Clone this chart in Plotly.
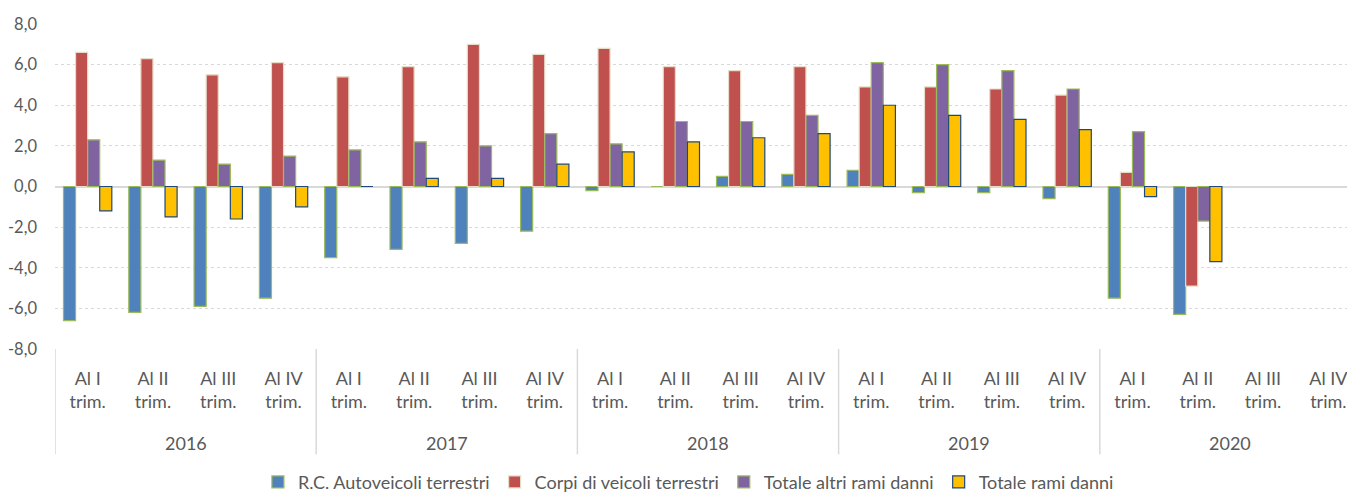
import plotly.graph_objects as go

years = ["2016", "2017", "2018", "2019", "2020"]
quarters = ["Al I<br>trim.", "Al II<br>trim.", "Al III<br>trim.", "Al IV<br>trim."]

rc_auto = [-6.6, -6.2, -5.9, -5.5, -3.5, -3.1, -2.8, -2.2, -0.2, 0.0, 0.5, 0.6,
           0.8, -0.3, -0.3, -0.6, -5.5, -6.3, None, None]
corpi = [6.6, 6.3, 5.5, 6.1, 5.4, 5.9, 7.0, 6.5, 6.8, 5.9, 5.7, 5.9,
         4.9, 4.9, 4.8, 4.5, 0.7, -4.9, None, None]
altri = [2.3, 1.3, 1.1, 1.5, 1.8, 2.2, 2.0, 2.6, 2.1, 3.2, 3.2, 3.5,
         6.1, 6.0, 5.7, 4.8, 2.7, -1.7, None, None]
totale = [-1.2, -1.5, -1.6, -1.0, 0.0, 0.4, 0.4, 1.1, 1.7, 2.2, 2.4, 2.6,
          4.0, 3.5, 3.3, 2.8, -0.5, -3.7, None, None]

y_tickvals = [-8, -6, -4, -2, 0, 2, 4, 6, 8]
y_ticktext = ["-8,0", "-6,0", "-4,0", "-2,0", "0,0", "2,0", "4,0", "6,0", "8,0"]

# flat category keys (year + quarter), labelled with the quarter text
categories = [f"{y} {q}" for y in years for q in quarters]
cat_labels = [q for _ in years for q in quarters]
nq = len(quarters)

series = [
    ("R.C. Autoveicoli terrestri", rc_auto, "#4F81BD", "#9BBB59"),
    ("Corpi di veicoli terrestri", corpi, "#C0504D", "#E6DCC8"),
    ("Totale altri rami danni", altri, "#8064A2", "#9BBB59"),
    ("Totale rami danni", totale, "#FFC000", "#1F497D"),
]

fig = go.Figure()
for name, vals, col, lcol in series:
    fig.add_trace(go.Bar(
        x=categories, y=vals, name=name,
        marker=dict(color=col, line=dict(color=lcol, width=1.2)),
    ))

font_family = "Lato, 'Open Sans', sans-serif"
grey = "#595959"
plot_h = 495 - 16 - 152

# year group labels and dividers (second level of the category axis)
for i, yr in enumerate(years):
    fig.add_annotation(
        x=i * nq + (nq - 1) / 2, xref="x", y=-95 / plot_h, yref="paper",
        text=yr, showarrow=False, yanchor="middle",
        font=dict(size=18, color=grey, family=font_family),
    )
for i in range(len(years) + 1):
    fig.add_shape(
        type="line", xref="x", yref="paper",
        x0=i * nq - 0.5, x1=i * nq - 0.5, y0=0, y1=-106 / plot_h,
        line=dict(color="#D9D9D9", width=1.5),
    )

fig.update_layout(
    width=1355, height=495,
    margin=dict(l=47, r=2, t=16, b=152),
    paper_bgcolor="white", plot_bgcolor="white",
    barmode="group", bargap=0.26, bargroupgap=0,
    separators=",.",
    font=dict(family=font_family, size=17, color=grey),
    legend=dict(orientation="h", x=0.485, xanchor="center", y=-0.41, yanchor="middle",
                font=dict(size=18, color=grey), itemwidth=30,
                traceorder="normal"),
    showlegend=True,
)
fig.update_yaxes(
    range=[-8, 8], tickvals=y_tickvals, ticktext=y_ticktext, automargin=False,
    showgrid=True, gridcolor="#D9D9D9", griddash="dot", gridwidth=1,
    zeroline=True, zerolinecolor="#D9D9D9", zerolinewidth=2,
    showline=False, ticks="", ticklen=0, ticklabelstandoff=17,
    tickfont=dict(size=16.5, color=grey),
)
fig.update_xaxes(
    type="category", categoryorder="array", categoryarray=categories,
    range=[-0.5, len(categories) - 0.5], automargin=False,
    tickvals=categories, ticktext=cat_labels, tickangle=0,
    showline=False, ticks="", showgrid=False, ticklabelstandoff=17,
    tickfont=dict(size=18, color=grey),
)
fig.write_html("out.html")
